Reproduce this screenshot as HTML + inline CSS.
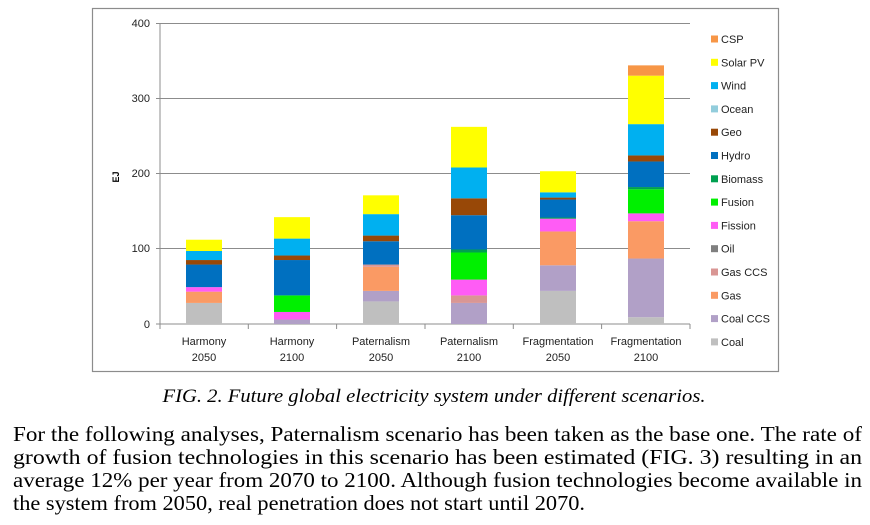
<!DOCTYPE html>
<html><head><meta charset="utf-8"><style>
html,body{margin:0;padding:0;background:#fff;}
svg{display:block;}
</style></head><body>
<svg width="870" height="525" viewBox="0 0 870 525" xmlns="http://www.w3.org/2000/svg">
<rect x="0" y="0" width="870" height="525" fill="#fff"/>
<rect x="92.5" y="8.5" width="686" height="363" fill="#fff" stroke="#8c8c8c" stroke-width="1.2"/>
<g stroke="#8c8c8c" stroke-width="1">
<line x1="160" y1="23.5" x2="690" y2="23.5"/>
<line x1="160" y1="98.5" x2="690" y2="98.5"/>
<line x1="160" y1="173.5" x2="690" y2="173.5"/>
<line x1="160" y1="248.5" x2="690" y2="248.5"/>
<line x1="160" y1="23" x2="160" y2="324"/>
<line x1="156" y1="23.5" x2="160" y2="23.5"/>
<line x1="156" y1="98.5" x2="160" y2="98.5"/>
<line x1="156" y1="173.5" x2="160" y2="173.5"/>
<line x1="156" y1="248.5" x2="160" y2="248.5"/>
<line x1="156" y1="324" x2="690" y2="324"/>
<line x1="160" y1="324" x2="160" y2="329"/>
<line x1="248.3" y1="324" x2="248.3" y2="329"/>
<line x1="336.6" y1="324" x2="336.6" y2="329"/>
<line x1="425" y1="324" x2="425" y2="329"/>
<line x1="513.3" y1="324" x2="513.3" y2="329"/>
<line x1="601.6" y1="324" x2="601.6" y2="329"/>
<line x1="690" y1="324" x2="690" y2="329"/>
</g>
<g font-family="Liberation Sans, sans-serif" font-size="11" fill="#222" text-anchor="end">
<text x="150" y="27">400</text><text x="150" y="102">300</text><text x="150" y="177">200</text><text x="150" y="252">100</text><text x="150" y="328">0</text>
</g>
<text x="0" y="0" transform="translate(119,177) rotate(-90)" font-family="Liberation Sans, sans-serif" font-size="9" font-weight="bold" text-anchor="middle">EJ</text>
<g id="bars"></g>
<g font-family="Liberation Sans, sans-serif" font-size="11" fill="#222" text-anchor="middle">
<text x="204" y="345">Harmony</text><text x="204" y="361">2050</text>
<text x="292" y="345">Harmony</text><text x="292" y="361">2100</text>
<text x="381" y="345">Paternalism</text><text x="381" y="361">2050</text>
<text x="469" y="345">Paternalism</text><text x="469" y="361">2100</text>
<text x="558" y="345">Fragmentation</text><text x="558" y="361">2050</text>
<text x="646" y="345">Fragmentation</text><text x="646" y="361">2100</text>
</g>
<g id="legend" font-family="Liberation Sans, sans-serif" font-size="11" fill="#222"></g>
<text x="434" y="402" font-family="Liberation Serif, serif" font-style="italic" font-size="19" text-anchor="middle" textLength="543" lengthAdjust="spacingAndGlyphs">FIG. 2. Future global electricity system under different scenarios.</text>
<g font-family="Liberation Serif, serif" font-size="21" fill="#000">
<text x="13" y="441" textLength="849" lengthAdjust="spacingAndGlyphs">For the following analyses, Paternalism scenario has been taken as the base one. The rate of</text>
<text x="13" y="464" textLength="849" lengthAdjust="spacingAndGlyphs">growth of fusion technologies in this scenario has been estimated (FIG. 3) resulting in an</text>
<text x="13" y="487" textLength="849" lengthAdjust="spacingAndGlyphs">average 12% per year from 2070 to 2100. Although fusion technologies become available in</text>
<text x="13" y="510" textLength="572" lengthAdjust="spacingAndGlyphs">the system from 2050, real penetration does not start until 2070.</text>
</g>
</svg>
<script>
var C={coal:"#bfbfbf",ccs:"#b1a0c7",gas:"#fa9a64",gccs:"#d99694",oil:"#7f7f7f",fis:"#ff5cf5",fus:"#00f000",bio:"#00a050",hyd:"#0070c0",geo:"#984807",oce:"#92cddc",win:"#00b0f0",sol:"#ffff00",csp:"#f79646"};
var B=[
[204,[["coal",28],["gas",43],["fis",49],["hyd",79],["geo",85],["win",97],["sol",112]]],
[292,[["ccs",6],["fis",16],["fus",38],["hyd",85],["geo",91],["win",113.5],["sol",142]]],
[381,[["coal",30],["ccs",44],["gas",76],["gccs",79],["hyd",110],["geo",117.5],["win",146],["sol",171]]],
[469,[["ccs",28],["gccs",38],["fis",59],["fus",95],["bio",99],["hyd",144.6],["geo",167],["win",208],["sol",262]]],
[558,[["coal",44],["ccs",78],["gas",123],["fis",140],["bio",141.5],["hyd",165.4],["geo",168],["win",175],["sol",203]]],
[646,[["coal",9],["ccs",87],["gas",136.6],["fis",147],["fus",179],["bio",182],["hyd",216],["geo",224],["win",265.6],["sol",330],["csp",343.7]]]];
var ns="http://www.w3.org/2000/svg",g=document.getElementById("bars");
function Y(v){return 324-v*0.7525;}
B.forEach(function(b){var p=0;b[1].forEach(function(s){var r=document.createElementNS(ns,"rect");r.setAttribute("x",b[0]-18);r.setAttribute("width",36);r.setAttribute("y",Y(s[1]));r.setAttribute("height",Y(p)-Y(s[1]));r.setAttribute("fill",C[s[0]]);g.appendChild(r);p=s[1];});});
var L=[["csp","CSP"],["sol","Solar PV"],["win","Wind"],["oce","Ocean"],["geo","Geo"],["hyd","Hydro"],["bio","Biomass"],["fus","Fusion"],["fis","Fission"],["oil","Oil"],["gccs","Gas CCS"],["gas","Gas"],["ccs","Coal CCS"],["coal","Coal"]];
var lg=document.getElementById("legend");
L.forEach(function(l,i){var y=39+i*23.3;var r=document.createElementNS(ns,"rect");r.setAttribute("x",711);r.setAttribute("y",y-3.5);r.setAttribute("width",7);r.setAttribute("height",7);r.setAttribute("fill",C[l[0]]);lg.appendChild(r);var t=document.createElementNS(ns,"text");t.setAttribute("x",721);t.setAttribute("y",y+4);t.textContent=l[1];lg.appendChild(t);});
</script>
</body></html>
